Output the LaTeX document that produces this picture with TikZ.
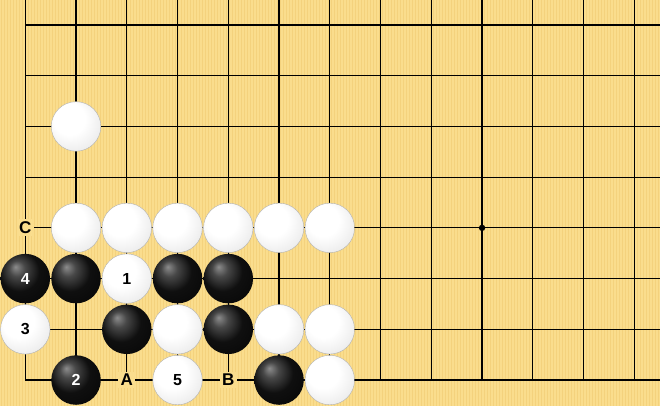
\documentclass[tikz,border=0pt]{standalone}
\usepackage{fontspec}
\setmainfont{Liberation Sans}
\usepackage{xcolor}
\definecolor{board}{RGB}{250,221,141}
\definecolor{boardstripe}{RGB}{244,210,125}
\pgfdeclareradialshading{blackball}{\pgfpoint{-10bp}{12bp}}{color(0bp)=(black!45); color(8bp)=(black!72); color(20bp)=(black!94); color(50bp)=(black)}
\pgfdeclareradialshading{whiteball}{\pgfpoint{-10bp}{11bp}}{color(0bp)=(white); color(16bp)=(white); color(32bp)=(black!8); color(44bp)=(black!22); color(50bp)=(black!38)}

\begin{document}
\begin{tikzpicture}[
  gridline/.style={line width=1.15pt,black},
  bstone/.style={circle,minimum size=49.5pt,inner sep=0pt,shading=blackball,text=white,font=\fontsize{16}{16}\selectfont\bfseries},
  wstone/.style={circle,minimum size=49.5pt,inner sep=0pt,shading=whiteball,draw=black!30,line width=0.4pt,text=black,font=\fontsize{16}{16}\selectfont\bfseries},
  pointlabel/.style={fill=board,inner sep=2.5pt,font=\fontsize{17}{17}\selectfont\bfseries}]
\useasboundingbox (0,0) rectangle (660pt,-406pt);
\fill[board] (0,0) rectangle (660pt,-406pt);
\foreach \k in {1.5,4.5,...,660}
  \draw[boardstripe,line width=0.6pt] (\k pt,0) -- (\k pt,-406pt);
\begin{scope}[shift={(25.3pt,-25pt)},x=50.75pt,y=-50.72pt]
% grid
\foreach \i in {0,...,12}
  \draw[gridline] (\i,7) -- (\i,-0.6);
\foreach \j in {0,...,7}
  \draw[gridline] (0,\j) -- (13,\j);
\fill (9,4) circle (3.2pt);
% stones
\node[wstone] (w1) at (1,2) {};
\node[wstone] (w2) at (1,4) {};
\node[wstone] (w3) at (2,4) {};
\node[wstone] (w4) at (3,4) {};
\node[wstone] (w5) at (4,4) {};
\node[wstone] (w6) at (5,4) {};
\node[wstone] (w7) at (6,4) {};
\node[bstone] (m4) at (0,5) {4};
\node[bstone] (b1) at (1,5) {};
\node[wstone] (m1) at (2,5) {1};
\node[bstone] (b2) at (3,5) {};
\node[bstone] (b3) at (4,5) {};
\node[wstone] (m3) at (0,6) {3};
\node[bstone] (b4) at (2,6) {};
\node[wstone] (w8) at (3,6) {};
\node[bstone] (b5) at (4,6) {};
\node[wstone] (w9) at (5,6) {};
\node[wstone] (w10) at (6,6) {};
\node[bstone] (m2) at (1,7) {2};
\node[wstone] (m5) at (3,7) {5};
\node[bstone] (b6) at (5,7) {};
\node[wstone] (w11) at (6,7) {};
% letters
\node[pointlabel] (c) at (0,4) {C};
\node[pointlabel] (a) at (2,7) {A};
\node[pointlabel] (b) at (4,7) {B};
\end{scope}
\end{tikzpicture}
\end{document}
